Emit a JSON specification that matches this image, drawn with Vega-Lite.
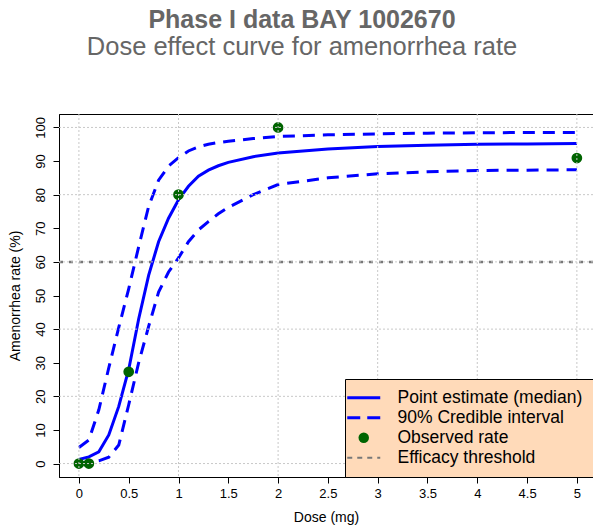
{
  "$schema": "https://vega.github.io/schema/vega-lite/v6.json",
  "width": 534,
  "height": 363,
  "autosize": {"type": "none"},
  "padding": {"left": 59, "top": 114, "right": 0, "bottom": 52},
  "background": "white",
  "config": {
    "font": "Liberation Sans",
    "view": {"stroke": "black", "strokeWidth": 1}
  },
  "title": {
    "text": "Phase I data BAY 1002670",
    "subtitle": "Dose effect curve for amenorrhea rate",
    "anchor": "middle",
    "frame": "group",
    "dx": -24,
    "offset": 53,
    "fontSize": 25,
    "fontWeight": "bold",
    "color": "#666666",
    "subtitleFontSize": 25.5,
    "subtitleColor": "#666666",
    "subtitleFontWeight": "normal",
    "subtitlePadding": 2
  },
  "data": {
    "values": [
      {"series": "Point estimate (median)", "curve": "median", "dose": 0, "rate": 1.2},
      {"series": "Point estimate (median)", "curve": "median", "dose": 0.1, "rate": 2.0},
      {"series": "Point estimate (median)", "curve": "median", "dose": 0.2, "rate": 3.5},
      {"series": "Point estimate (median)", "curve": "median", "dose": 0.3, "rate": 8.5},
      {"series": "Point estimate (median)", "curve": "median", "dose": 0.4, "rate": 17},
      {"series": "Point estimate (median)", "curve": "median", "dose": 0.5, "rate": 28},
      {"series": "Point estimate (median)", "curve": "median", "dose": 0.6, "rate": 43},
      {"series": "Point estimate (median)", "curve": "median", "dose": 0.7, "rate": 56},
      {"series": "Point estimate (median)", "curve": "median", "dose": 0.8, "rate": 66},
      {"series": "Point estimate (median)", "curve": "median", "dose": 0.9, "rate": 73},
      {"series": "Point estimate (median)", "curve": "median", "dose": 1.0, "rate": 78.5},
      {"series": "Point estimate (median)", "curve": "median", "dose": 1.1, "rate": 82.5},
      {"series": "Point estimate (median)", "curve": "median", "dose": 1.2, "rate": 85.5},
      {"series": "Point estimate (median)", "curve": "median", "dose": 1.3, "rate": 87.3},
      {"series": "Point estimate (median)", "curve": "median", "dose": 1.4, "rate": 88.6},
      {"series": "Point estimate (median)", "curve": "median", "dose": 1.5, "rate": 89.6},
      {"series": "Point estimate (median)", "curve": "median", "dose": 1.75, "rate": 91.3},
      {"series": "Point estimate (median)", "curve": "median", "dose": 2.0, "rate": 92.4},
      {"series": "Point estimate (median)", "curve": "median", "dose": 2.5, "rate": 93.6},
      {"series": "Point estimate (median)", "curve": "median", "dose": 3.0, "rate": 94.3},
      {"series": "Point estimate (median)", "curve": "median", "dose": 3.5, "rate": 94.7},
      {"series": "Point estimate (median)", "curve": "median", "dose": 4.0, "rate": 95.0},
      {"series": "Point estimate (median)", "curve": "median", "dose": 4.5, "rate": 95.1},
      {"series": "Point estimate (median)", "curve": "median", "dose": 5.0, "rate": 95.2},
      {"series": "90% Credible interval", "curve": "upper", "dose": 0, "rate": 4.8},
      {"series": "90% Credible interval", "curve": "upper", "dose": 0.1, "rate": 7},
      {"series": "90% Credible interval", "curve": "upper", "dose": 0.2, "rate": 16},
      {"series": "90% Credible interval", "curve": "upper", "dose": 0.3, "rate": 28.5},
      {"series": "90% Credible interval", "curve": "upper", "dose": 0.4, "rate": 40.5},
      {"series": "90% Credible interval", "curve": "upper", "dose": 0.5, "rate": 52},
      {"series": "90% Credible interval", "curve": "upper", "dose": 0.6, "rate": 64.5},
      {"series": "90% Credible interval", "curve": "upper", "dose": 0.7, "rate": 76.5},
      {"series": "90% Credible interval", "curve": "upper", "dose": 0.8, "rate": 84.3},
      {"series": "90% Credible interval", "curve": "upper", "dose": 0.9, "rate": 88.5},
      {"series": "90% Credible interval", "curve": "upper", "dose": 1.0, "rate": 91},
      {"series": "90% Credible interval", "curve": "upper", "dose": 1.1, "rate": 93},
      {"series": "90% Credible interval", "curve": "upper", "dose": 1.2, "rate": 94.2},
      {"series": "90% Credible interval", "curve": "upper", "dose": 1.3, "rate": 95},
      {"series": "90% Credible interval", "curve": "upper", "dose": 1.4, "rate": 95.5},
      {"series": "90% Credible interval", "curve": "upper", "dose": 1.5, "rate": 95.9},
      {"series": "90% Credible interval", "curve": "upper", "dose": 1.75, "rate": 96.7},
      {"series": "90% Credible interval", "curve": "upper", "dose": 2.0, "rate": 97.3},
      {"series": "90% Credible interval", "curve": "upper", "dose": 2.5, "rate": 97.8},
      {"series": "90% Credible interval", "curve": "upper", "dose": 3.0, "rate": 98.1},
      {"series": "90% Credible interval", "curve": "upper", "dose": 3.5, "rate": 98.3},
      {"series": "90% Credible interval", "curve": "upper", "dose": 4.0, "rate": 98.4},
      {"series": "90% Credible interval", "curve": "upper", "dose": 4.5, "rate": 98.5},
      {"series": "90% Credible interval", "curve": "upper", "dose": 5.0, "rate": 98.5},
      {"series": "90% Credible interval", "curve": "lower", "dose": 0, "rate": 0.2},
      {"series": "90% Credible interval", "curve": "lower", "dose": 0.1, "rate": 0.4},
      {"series": "90% Credible interval", "curve": "lower", "dose": 0.2, "rate": 0.8},
      {"series": "90% Credible interval", "curve": "lower", "dose": 0.3, "rate": 1.9},
      {"series": "90% Credible interval", "curve": "lower", "dose": 0.4, "rate": 5.5},
      {"series": "90% Credible interval", "curve": "lower", "dose": 0.5, "rate": 17.5},
      {"series": "90% Credible interval", "curve": "lower", "dose": 0.6, "rate": 30},
      {"series": "90% Credible interval", "curve": "lower", "dose": 0.7, "rate": 40.8},
      {"series": "90% Credible interval", "curve": "lower", "dose": 0.8, "rate": 51},
      {"series": "90% Credible interval", "curve": "lower", "dose": 0.9, "rate": 57},
      {"series": "90% Credible interval", "curve": "lower", "dose": 1.0, "rate": 61.2},
      {"series": "90% Credible interval", "curve": "lower", "dose": 1.1, "rate": 66},
      {"series": "90% Credible interval", "curve": "lower", "dose": 1.2, "rate": 69.5},
      {"series": "90% Credible interval", "curve": "lower", "dose": 1.3, "rate": 72},
      {"series": "90% Credible interval", "curve": "lower", "dose": 1.4, "rate": 74.3},
      {"series": "90% Credible interval", "curve": "lower", "dose": 1.5, "rate": 76.2},
      {"series": "90% Credible interval", "curve": "lower", "dose": 1.75, "rate": 80},
      {"series": "90% Credible interval", "curve": "lower", "dose": 2.0, "rate": 83},
      {"series": "90% Credible interval", "curve": "lower", "dose": 2.5, "rate": 85},
      {"series": "90% Credible interval", "curve": "lower", "dose": 3.0, "rate": 86.2},
      {"series": "90% Credible interval", "curve": "lower", "dose": 3.5, "rate": 86.8},
      {"series": "90% Credible interval", "curve": "lower", "dose": 4.0, "rate": 87.2},
      {"series": "90% Credible interval", "curve": "lower", "dose": 4.5, "rate": 87.3},
      {"series": "90% Credible interval", "curve": "lower", "dose": 5.0, "rate": 87.4},
      {"series": "Observed rate", "curve": "obs", "dose": 0, "rate": 0},
      {"series": "Observed rate", "curve": "obs", "dose": 0.1, "rate": 0},
      {"series": "Observed rate", "curve": "obs", "dose": 0.5, "rate": 27.3},
      {"series": "Observed rate", "curve": "obs", "dose": 1, "rate": 80},
      {"series": "Observed rate", "curve": "obs", "dose": 2, "rate": 100},
      {"series": "Observed rate", "curve": "obs", "dose": 5, "rate": 90.9},
      {"series": "Efficacy threshold", "curve": "threshold", "rate": 60},
      {"series": "gridx", "dose": 0},
      {"series": "gridx", "dose": 1},
      {"series": "gridx", "dose": 2},
      {"series": "gridx", "dose": 3},
      {"series": "gridx", "dose": 4},
      {"series": "gridx", "dose": 5},
      {"series": "gridy", "rate": 0},
      {"series": "gridy", "rate": 20},
      {"series": "gridy", "rate": 40},
      {"series": "gridy", "rate": 60},
      {"series": "gridy", "rate": 80},
      {"series": "gridy", "rate": 100}
    ]
  },
  "encoding": {
    "x": {
      "field": "dose", "type": "quantitative",
      "scale": {"domain": [-0.2, 5.162], "nice": false, "zero": false},
      "axis": {
        "values": [0, 0.5, 1, 1.5, 2, 2.5, 3, 3.5, 4, 4.5, 5],
        "format": "~g",
        "title": "Dose (mg)",
        "titleFontSize": 14, "titleFontWeight": "normal", "titleColor": "black", "titlePadding": 10,
        "labelFontSize": 13, "labelColor": "black", "labelPadding": 4, "labelFlush": false, "labelOverlap": false,
        "tickSize": 6, "tickColor": "black", "domainColor": "black",
        "grid": false
      }
    },
    "y": {
      "field": "rate", "type": "quantitative",
      "scale": {"domain": [-4, 104], "nice": false, "zero": false},
      "axis": {
        "values": [0, 10, 20, 30, 40, 50, 60, 70, 80, 90, 100],
        "format": "d",
        "title": "Amenorrhea rate (%)",
        "titleFontSize": 14, "titleFontWeight": "normal", "titleColor": "black", "titlePadding": 12,
        "labelFontSize": 13, "labelColor": "black", "labelAngle": -90, "labelAlign": "center", "labelBaseline": "alphabetic", "labelPadding": 9,
        "labelFlush": false, "labelOverlap": false,
        "tickSize": 6, "tickColor": "black", "domainColor": "black",
        "grid": false
      }
    }
  },
  "layer": [
    {
      "transform": [{"filter": "datum.series === 'Efficacy threshold'"}],
      "mark": {"type": "rule", "strokeWidth": 2.5, "strokeDash": [4, 6]},
      "encoding": {
        "x": null,
        "color": {
          "field": "series", "type": "nominal",
          "scale": {
            "domain": ["Point estimate (median)", "90% Credible interval", "Observed rate", "Efficacy threshold"],
            "range": ["#0000ff", "#0000ff", "#006400", "#777777"]
          },
          "legend": {
            "title": null,
            "orient": "bottom-right",
            "offset": 0,
            "zindex": 2,
            "fillColor": "#FFDAB9",
            "strokeColor": "black",
            "padding": 10,
            "rowPadding": 1,
            "labelFontSize": 17.5,
            "labelColor": "black",
            "labelLimit": 400,
            "labelOffset": 25,
            "symbolSize": 400,
            "encode": {
              "symbols": {
                "update": {
                  "shape": {"signal": "datum.value === 'Observed rate' ? 'circle' : 'M-1.65,0L1.65,0'"},
                  "size": {"signal": "datum.value === 'Observed rate' ? 110 : 400"},
                  "fill": {"signal": "datum.value === 'Observed rate' ? '#006400' : 'transparent'"},
                  "stroke": {"signal": "datum.value === 'Observed rate' ? '#006400' : datum.value === 'Efficacy threshold' ? '#333333' : '#0000ff'"},
                  "strokeWidth": {"signal": "datum.value === 'Observed rate' ? 0 : datum.value === 'Efficacy threshold' ? 2 : 3"},
                  "strokeDash": {"signal": "datum.value === '90% Credible interval' ? [13, 7] : datum.value === 'Efficacy threshold' ? [5, 5] : [1, 0]"},
                  "opacity": {"value": 1}
                }
              }
            }
          }
        }
      }
    },
    {
      "transform": [{"filter": "datum.series === '90% Credible interval'"}],
      "mark": {"type": "line", "strokeWidth": 3, "strokeDash": [12, 8]},
      "encoding": {"detail": {"field": "curve"}, "color": {"field": "series", "type": "nominal"}}
    },
    {
      "transform": [{"filter": "datum.series === 'Point estimate (median)'"}],
      "mark": {"type": "line", "strokeWidth": 3},
      "encoding": {"color": {"field": "series", "type": "nominal"}}
    },
    {
      "transform": [{"filter": "datum.series === 'Observed rate'"}],
      "mark": {"type": "point", "filled": true, "size": 115, "opacity": 1},
      "encoding": {"color": {"field": "series", "type": "nominal"}}
    },
    {
      "transform": [{"filter": "datum.series === 'gridx'"}],
      "mark": {"type": "rule", "color": "#c8c8c8", "strokeWidth": 1, "strokeDash": [2, 2]},
      "encoding": {"y": null}
    },
    {
      "transform": [{"filter": "datum.series === 'gridy'"}],
      "mark": {"type": "rule", "color": "#c8c8c8", "strokeWidth": 1, "strokeDash": [2, 2]},
      "encoding": {"x": null}
    }
  ]
}
